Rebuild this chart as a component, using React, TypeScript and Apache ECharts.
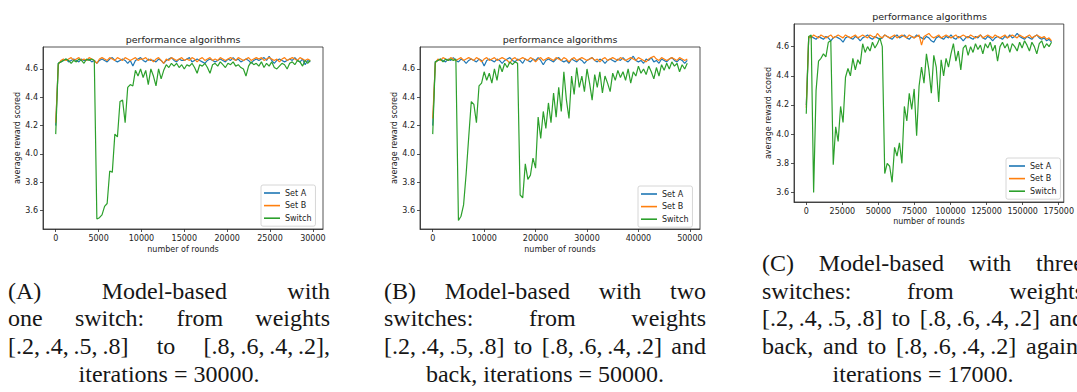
import { useEffect, useRef } from 'react';
import * as echarts from 'echarts';

// ---------------- data ----------------
const SERIES_NAMES = ['Set A', 'Set B', 'Switch'];
const COLORS = ['#1f77b4', '#ff7f0e', '#2ca02c'];

const STEP_A = 300;
const STEP_B = 500;
const STEP_C = 1700;

const A_SET_A = [
  4.20,4.64,4.65,4.66,4.67,4.65,4.66,4.67,4.66,4.65,
  4.67,4.66,4.66,4.67,4.65,4.66,4.64,4.66,4.67,4.66,
  4.65,4.67,4.68,4.66,4.65,4.66,4.67,4.66,4.64,4.66,
  4.62,4.66,4.67,4.68,4.66,4.65,4.67,4.66,4.66,4.65,
  4.67,4.66,4.64,4.66,4.67,4.68,4.66,4.65,4.67,4.66,
  4.66,4.67,4.68,4.65,4.66,4.67,4.66,4.65,4.64,4.66,
  4.67,4.66,4.65,4.66,4.67,4.66,4.65,4.67,4.66,4.68,
  4.66,4.67,4.65,4.66,4.67,4.66,4.64,4.66,4.67,4.66,
  4.67,4.68,4.66,4.69,4.66,4.64,4.66,4.67,4.66,4.65,
  4.66,4.67,4.66,4.68,4.66,4.65,4.67,4.63,4.66,4.65,
];
const A_SET_B = [
  4.22,4.63,4.66,4.67,4.66,4.67,4.68,4.66,4.67,4.68,
  4.66,4.67,4.66,4.68,4.67,4.66,4.64,4.67,4.68,4.67,
  4.66,4.68,4.67,4.66,4.68,4.67,4.66,4.68,4.67,4.66,
  4.67,4.68,4.66,4.67,4.67,4.68,4.66,4.67,4.65,4.67,
  4.68,4.66,4.64,4.67,4.66,4.68,4.67,4.66,4.67,4.68,
  4.66,4.67,4.66,4.68,4.67,4.65,4.67,4.68,4.66,4.67,
  4.68,4.66,4.67,4.66,4.68,4.67,4.66,4.67,4.68,4.67,
  4.66,4.68,4.67,4.66,4.67,4.68,4.66,4.67,4.68,4.67,
  4.68,4.66,4.67,4.68,4.67,4.66,4.67,4.65,4.67,4.68,
  4.66,4.67,4.68,4.67,4.66,4.68,4.67,4.66,4.67,4.66,
];
const A_SWITCH = [
  4.14,4.64,4.65,4.66,4.67,4.66,4.64,4.66,4.65,4.67,
  4.66,4.64,4.67,4.66,4.67,4.66,3.54,3.55,3.57,3.63,
  3.65,3.88,3.87,4.14,4.12,4.37,4.38,4.22,4.47,4.49,
  4.48,4.59,4.55,4.60,4.54,4.59,4.49,4.60,4.55,4.48,
  4.60,4.53,4.59,4.63,4.61,4.64,4.62,4.64,4.61,4.63,
  4.60,4.63,4.62,4.64,4.61,4.57,4.63,4.62,4.64,4.61,
  4.57,4.63,4.64,4.62,4.65,4.63,4.61,4.64,4.63,4.65,
  4.62,4.63,4.61,4.60,4.55,4.62,4.65,4.63,4.64,4.62,
  4.65,4.61,4.64,4.62,4.65,4.61,4.60,4.62,4.64,4.63,
  4.60,4.64,4.65,4.63,4.66,4.65,4.62,4.66,4.64,4.66,
];

const B_SET_A = [
  4.20,4.65,4.66,4.67,4.66,4.65,4.67,4.66,4.68,4.66,
  4.65,4.67,4.66,4.64,4.66,4.67,4.66,4.65,4.67,4.66,
  4.62,4.66,4.67,4.66,4.65,4.67,4.66,4.64,4.66,4.67,
  4.68,4.66,4.65,4.67,4.66,4.64,4.67,4.66,4.65,4.67,
  4.66,4.68,4.66,4.63,4.66,4.67,4.66,4.65,4.67,4.68,
  4.66,4.65,4.66,4.64,4.67,4.66,4.65,4.67,4.66,4.64,
  4.66,4.67,4.68,4.66,4.65,4.67,4.66,4.64,4.66,4.67,
  4.66,4.65,4.67,4.66,4.68,4.66,4.65,4.67,4.69,4.66,
  4.65,4.66,4.64,4.67,4.66,4.68,4.65,4.66,4.64,4.67,
  4.66,4.65,4.67,4.68,4.66,4.65,4.67,4.66,4.64,4.66,
];
const B_SET_B = [
  4.25,4.64,4.67,4.66,4.68,4.67,4.66,4.68,4.67,4.66,
  4.67,4.68,4.66,4.67,4.68,4.67,4.66,4.68,4.67,4.65,
  4.67,4.68,4.66,4.67,4.68,4.66,4.67,4.68,4.67,4.66,
  4.64,4.67,4.68,4.66,4.67,4.68,4.67,4.66,4.68,4.67,
  4.65,4.67,4.68,4.66,4.67,4.68,4.67,4.66,4.68,4.67,
  4.66,4.68,4.67,4.65,4.67,4.68,4.66,4.67,4.68,4.67,
  4.66,4.67,4.68,4.66,4.67,4.65,4.67,4.68,4.66,4.67,
  4.68,4.67,4.66,4.68,4.67,4.66,4.67,4.68,4.67,4.66,
  4.68,4.67,4.66,4.65,4.67,4.68,4.69,4.67,4.66,4.68,
  4.67,4.66,4.67,4.68,4.67,4.66,4.68,4.67,4.66,4.67,
];
const B_SWITCH = [
  4.14,4.65,4.66,4.67,4.65,4.67,4.66,4.67,4.66,4.67,
  3.53,3.56,3.64,3.86,4.12,4.37,4.35,4.22,4.48,4.50,
  4.58,4.52,4.57,4.50,4.60,4.52,4.63,4.58,4.64,4.61,
  4.65,4.63,4.65,4.64,3.71,3.69,3.93,3.82,3.85,3.97,
  3.90,4.26,4.11,4.30,4.18,4.36,4.22,4.43,4.26,4.47,
  4.30,4.58,4.38,4.25,4.55,4.42,4.61,4.47,4.55,4.44,
  4.60,4.50,4.38,4.56,4.47,4.58,4.43,4.55,4.50,4.44,
  4.57,4.52,4.59,4.54,4.58,4.52,4.60,4.50,4.58,4.55,
  4.62,4.57,4.60,4.56,4.62,4.58,4.53,4.61,4.55,4.63,
  4.59,4.64,4.60,4.65,4.62,4.64,4.58,4.63,4.60,4.64,
];

const C_SET_A = [
  4.20,4.66,4.67,4.66,4.65,4.67,4.66,4.65,4.67,4.66,
  4.64,4.66,4.67,4.66,4.65,4.63,4.66,4.67,4.66,4.65,
  4.67,4.66,4.64,4.66,4.67,4.68,4.66,4.65,4.67,4.66,
  4.65,4.66,4.68,4.67,4.66,4.65,4.67,4.68,4.66,4.67,
  4.68,4.66,4.65,4.67,4.66,4.68,4.67,4.66,4.65,4.67,
  4.66,4.64,4.63,4.66,4.67,4.66,4.65,4.67,4.66,4.68,
  4.66,4.65,4.67,4.66,4.64,4.66,4.67,4.66,4.65,4.67,
  4.66,4.68,4.66,4.65,4.67,4.66,4.64,4.66,4.67,4.66,
  4.65,4.67,4.66,4.68,4.66,4.67,4.69,4.67,4.66,4.65,
  4.67,4.66,4.65,4.67,4.68,4.66,4.65,4.66,4.64,4.65,
  4.63,
];
const C_SET_B = [
  4.18,4.67,4.66,4.68,4.67,4.66,4.68,4.67,4.66,4.67,
  4.68,4.66,4.67,4.68,4.67,4.66,4.68,4.67,4.66,4.67,
  4.68,4.66,4.67,4.68,4.67,4.66,4.68,4.67,4.66,4.69,
  4.67,4.66,4.68,4.67,4.66,4.67,4.68,4.66,4.67,4.68,
  4.67,4.66,4.68,4.67,4.66,4.67,4.68,4.61,4.67,4.68,
  4.69,4.67,4.66,4.67,4.68,4.66,4.67,4.68,4.67,4.66,
  4.67,4.68,4.66,4.67,4.68,4.67,4.66,4.68,4.67,4.66,
  4.67,4.68,4.66,4.67,4.68,4.67,4.66,4.68,4.67,4.66,
  4.67,4.68,4.66,4.67,4.68,4.67,4.66,4.68,4.67,4.66,
  4.67,4.68,4.66,4.67,4.68,4.67,4.66,4.67,4.65,4.66,
  4.64,
];
const C_SWITCH = [
  4.14,4.67,4.68,3.60,4.30,4.50,4.52,4.55,4.53,4.63,
  4.64,3.79,4.05,3.95,4.19,4.08,4.39,4.45,4.40,4.52,
  4.44,4.51,4.48,4.62,4.56,4.60,4.57,4.63,4.59,4.62,
  4.66,4.60,3.73,3.80,3.78,3.67,3.91,3.85,3.94,3.80,
  4.19,4.09,4.28,4.17,4.31,3.99,4.33,4.46,4.35,4.55,
  4.44,4.28,4.54,4.46,4.22,4.51,4.40,4.52,4.46,4.55,
  4.62,4.50,4.57,4.44,4.59,4.61,4.54,4.60,4.56,4.62,
  4.58,4.61,4.55,4.62,4.59,4.63,4.57,4.61,4.50,4.60,
  4.63,4.59,4.62,4.56,4.62,4.60,4.57,4.63,4.59,4.64,
  4.61,4.57,4.63,4.60,4.55,4.62,4.64,4.59,4.62,4.60,
  4.63,
];

const TICKS_A = [0, 5000, 10000, 15000, 20000, 25000, 30000];
const TICKS_B = [0, 10000, 20000, 30000, 40000, 50000];
const TICKS_C = [0, 25000, 50000, 75000, 100000, 125000, 150000, 175000];
const Y_TICKS = [3.6, 3.8, 4.0, 4.2, 4.4, 4.6];

const TITLE = 'performance algorithms';
const X_NAME = 'number of rounds';
const Y_NAME = 'average reward scored';

const TS = '\u2009';
const W1 = `[.2,${TS}.4,${TS}.5,${TS}.8]`;
const W2 = `[.8,${TS}.6,${TS}.4,${TS}.2]`;

const CAPTION_A = [
  ['(A)', 'Model-based', 'with'],
  ['one', 'switch:', 'from', 'weights'],
  [W1, 'to', W2 + ','],
  ['iterations = 30000.'],
];
const CAPTION_B = [
  ['(B)', 'Model-based', 'with', 'two'],
  ['switches:', 'from', 'weights'],
  [W1, 'to', W2, 'and'],
  ['back, iterations = 50000.'],
];
const CAPTION_C = [
  ['(C)', 'Model-based', 'with', 'three'],
  ['switches:', 'from', 'weights'],
  [W1, 'to', W2, 'and'],
  ['back,', 'and', 'to', W2, 'again,'],
  ['iterations = 17000.'],
];

// ---------------- layout ----------------
const FONT = 'DejaVu Sans';
const SERIF = 'Liberation Serif';
const CAP_SIZE = 24;

const PANELS = [
  {
    grid: { left: 43, top: 47, width: 280, height: 182 },
    x: [-1485, 31185], y: [3.47, 4.755], ticks: TICKS_A, step: STEP_A,
    data: [A_SET_A, A_SET_B, A_SWITCH], titleTop: 34,
    legend: { left: 261, top: 185 }, yGap: 22, xGap: 16,
  },
  {
    grid: { left: 420, top: 47, width: 280, height: 182 },
    x: [-2475, 51975], y: [3.47, 4.755], ticks: TICKS_B, step: STEP_B,
    data: [B_SET_A, B_SET_B, B_SWITCH], titleTop: 34,
    legend: { left: 638, top: 186 }, yGap: 22, xGap: 16,
  },
  {
    grid: { left: 794, top: 24, width: 271, height: 178 },
    x: [-8500, 178500], y: [3.535, 4.755], ticks: TICKS_C, step: STEP_C,
    data: [C_SET_A, C_SET_B, C_SWITCH], titleTop: 11,
    legend: { left: 1006, top: 158 }, yGap: 20, xGap: 15,
  },
];

const CAPTIONS = [
  { lines: CAPTION_A, left: 8, right: 330, ys: [291, 318, 346, 374] },
  { lines: CAPTION_B, left: 384, right: 706, ys: [291, 318, 346, 374] },
  { lines: CAPTION_C, left: 762, right: 1084, ys: [263, 291, 318, 346, 374] },
];

function measure(ctx: CanvasRenderingContext2D, t: string) {
  return ctx.measureText(t).width;
}

function buildCaptions() {
  const canvas = document.createElement('canvas');
  const ctx = canvas.getContext('2d')!;
  ctx.font = `${CAP_SIZE}px "${SERIF}"`;
  const els: any[] = [];
  const baseStyle = { fontSize: CAP_SIZE, fontFamily: SERIF, fill: '#161616', textVerticalAlign: 'middle' };
  CAPTIONS.forEach((cap) => {
    cap.lines.forEach((words, li) => {
      const y = cap.ys[li];
      const isLast = li === cap.lines.length - 1;
      if (isLast || words.length === 1) {
        els.push({ type: 'text', x: (cap.left + cap.right) / 2, y, style: { ...baseStyle, text: words.join(' '), textAlign: 'center' } });
        return;
      }
      const widths = words.map((w) => measure(ctx, w));
      const total = widths.reduce((a, b) => a + b, 0);
      const gap = (cap.right - cap.left - total) / (words.length - 1);
      let x = cap.left;
      words.forEach((w, i) => {
        els.push({ type: 'text', x, y, style: { ...baseStyle, text: w, textAlign: 'left' } });
        x += widths[i] + gap;
      });
    });
  });
  return els;
}

export default function App() {
  const ref = useRef<HTMLDivElement>(null);
  useEffect(() => {
    const chart = echarts.init(ref.current!, null, { renderer: 'svg' });
    const axisColor = '#2a2a2a';
    const labelStyle = { fontSize: 8, color: '#222', fontFamily: FONT };

    const option: any = {
      animation: false,
      color: COLORS,
      backgroundColor: '#ffffff',
      title: PANELS.map((p) => ({
        text: TITLE,
        left: p.grid.left + p.grid.width / 2,
        top: p.titleTop,
        textAlign: 'center',
        padding: 0,
        textStyle: { fontSize: 9.5, fontWeight: 'normal', color: '#222', fontFamily: FONT },
      })),
      legend: PANELS.map((p) => ({
        left: p.legend.left,
        top: p.legend.top,
        orient: 'vertical',
        icon: 'rect',
        itemWidth: 16,
        itemHeight: 1.6,
        itemGap: 2.6,
        padding: [3, 4, 3, 3],
        borderColor: '#cccccc',
        borderWidth: 0.8,
        borderRadius: 2,
        backgroundColor: 'rgba(255,255,255,0.85)',
        selectedMode: false,
        textStyle: { ...labelStyle, lineHeight: 10 },
        data: SERIES_NAMES,
      })),
      grid: PANELS.map((p) => ({
        ...p.grid,
        show: true,
        borderColor: axisColor,
        borderWidth: 0.8,
        backgroundColor: 'transparent',
        containLabel: false,
      })),
      xAxis: PANELS.map((p, k) => ({
        type: 'value',
        gridIndex: k,
        min: p.x[0],
        max: p.x[1],
        axisLine: { show: true, onZero: false, lineStyle: { color: axisColor, width: 0.8 } },
        axisTick: { show: true, length: 3, lineStyle: { color: axisColor, width: 0.8 }, customValues: p.ticks },
        axisLabel: { ...labelStyle, margin: 5, customValues: p.ticks, formatter: (v: number) => String(v) },
        splitLine: { show: false },
        name: X_NAME,
        nameLocation: 'middle',
        nameGap: p.xGap,
        nameTextStyle: labelStyle,
      })),
      yAxis: PANELS.map((p, k) => ({
        type: 'value',
        gridIndex: k,
        min: p.y[0],
        max: p.y[1],
        axisLine: { show: true, onZero: false, lineStyle: { color: axisColor, width: 0.8 } },
        axisTick: { show: true, length: 3, lineStyle: { color: axisColor, width: 0.8 }, customValues: Y_TICKS },
        axisLabel: { ...labelStyle, margin: 5, customValues: Y_TICKS, formatter: (v: number) => v.toFixed(1) },
        splitLine: { show: false },
        name: Y_NAME,
        nameLocation: 'middle',
        nameGap: p.yGap,
        nameTextStyle: labelStyle,
      })),
      series: PANELS.flatMap((p, k) =>
        p.data.map((vals, s) => ({
          type: 'line',
          name: SERIES_NAMES[s],
          xAxisIndex: k,
          yAxisIndex: k,
          data: vals.map((v, i) => [i * p.step, v]),
          symbol: 'none',
          showSymbol: false,
          z: 2 + s,
          lineStyle: { width: 1.2, color: COLORS[s] },
          itemStyle: { color: COLORS[s] },
        }))
      ),
      graphic: buildCaptions(),
    };
    chart.setOption(option);
    return () => chart.dispose();
  }, []);
  return (
    <div
      ref={ref}
      style={{ position: 'absolute', left: 0, top: 0, width: 1077, height: 392, background: '#fff' }}
    />
  );
}
